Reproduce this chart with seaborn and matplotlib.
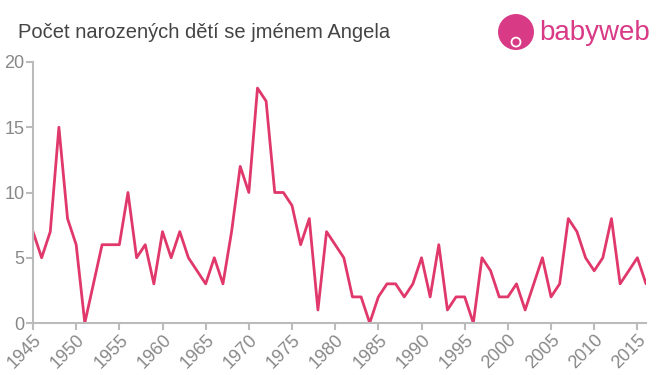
import numpy as np
import pandas as pd
import matplotlib
matplotlib.use("Agg")
import matplotlib.pyplot as plt
import seaborn as sns
from matplotlib.patches import Circle

years = list(range(1945, 2017))
counts = [7, 5, 7, 15, 8, 6, 0, 3, 6, 6,
          6, 10, 5, 6, 3, 7, 5, 7, 5, 4,
          3, 5, 3, 7, 12, 10, 18, 17, 10, 10,
          9, 6, 8, 1, 7, 6, 5, 2, 2, 0,
          2, 3, 3, 2, 3, 5, 2, 6, 1, 2,
          2, 0, 5, 4, 2, 2, 3, 1, 3, 5,
          2, 3, 8, 7, 5, 4, 5, 8, 3, 4,
          5, 3]
xticks = list(range(1945, 2016, 5))
yticks = [0, 5, 10, 15, 20]
title = "Počet narozených dětí se jménem Angela"

df = pd.DataFrame({"year": years, "count": counts})

sns.set_theme(style="white")
plt.rcParams['font.family'] = ['Liberation Sans', 'DejaVu Sans']

fig = plt.figure(figsize=(6.6, 3.75), dpi=100)
ax = fig.add_axes([33/660, 1 - 323/375, (646 - 33)/660, (323 - 62)/375])
sns.lineplot(data=df, x="year", y="count", ax=ax, color="#e0386b", linewidth=2)

ax.set_xlim(1945, 2016)
ax.set_ylim(0, 20)
ax.set_xticks(xticks)
ax.set_yticks(yticks)
ax.set_xlabel("")
ax.set_ylabel("")
for s in ["top", "right"]:
    ax.spines[s].set_visible(False)
for s in ["left", "bottom"]:
    ax.spines[s].set_color("#bbbbbb")
    ax.spines[s].set_linewidth(1.5)
ax.tick_params(axis="both", colors="#bbbbbb", length=5, width=1.5, direction="out",
               labelcolor="#888888", labelsize=13, bottom=True, left=True, pad=1)
plt.setp(ax.get_xticklabels(), rotation=45, ha="right", rotation_mode="anchor")

fig.text(18/660, 1 - 32/375, title, fontsize=14.5, color="#444444", va="center", ha="left")

# logo
pink = "#d93a86"
lax = fig.add_axes([498/660, 1 - 50/375, 36/660, 36/375])
lax.set_xlim(0, 1)
lax.set_ylim(0, 1)
lax.set_aspect("equal")
lax.axis("off")
lax.add_patch(Circle((0.5, 0.5), 0.48, color=pink))
lax.add_patch(Circle((0.5, 0.22), 0.13, color="white"))
lax.add_patch(Circle((0.5, 0.22), 0.08, color=pink))
fig.text(539/660, 1 - 33/375, "babyweb", fontsize=20, color=pink, va="center", ha="left")

fig.savefig("out.png", dpi=100)
